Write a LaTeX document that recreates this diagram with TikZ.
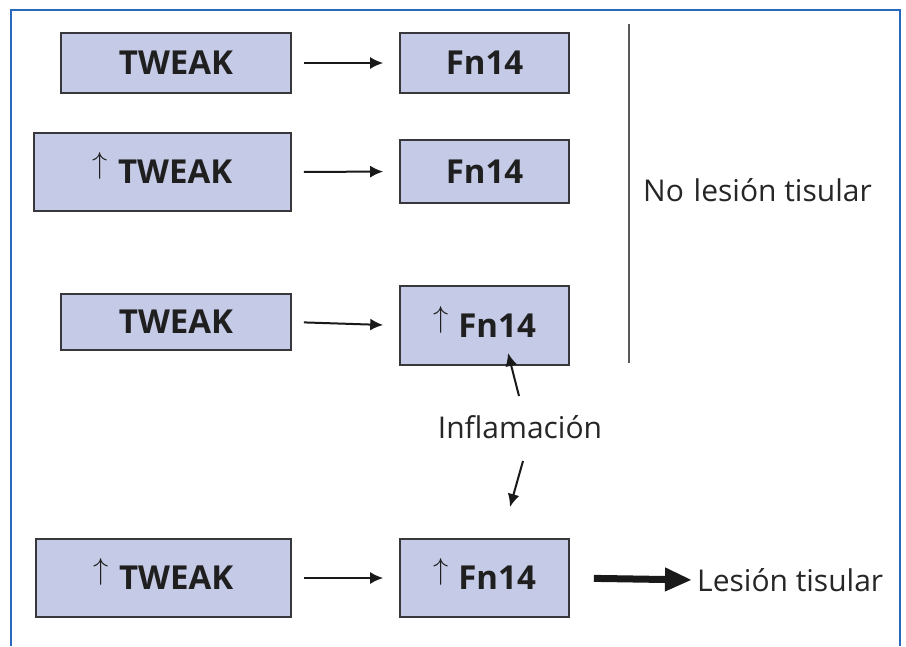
\documentclass[tikz,border=0pt]{standalone}
\usepackage{fontspec}
\usepackage{graphicx}
\setmainfont{Open Sans}
\usetikzlibrary{arrows.meta}
\definecolor{frameblue}{RGB}{40,105,190}
\definecolor{boxfill}{RGB}{197,202,230}
\definecolor{boxline}{RGB}{55,55,60}
\tikzset{
  box/.style={draw=boxline, line width=1.6pt, fill=boxfill, inner sep=0pt, font=\fontsize{33}{36}\selectfont\bfseries, text=black!88},
  thinarrow/.style={line width=2pt, -{Latex[length=13pt,width=12pt]}, black!90},
  boldarrow/.style={line width=7pt, -{Triangle[length=27pt,width=22pt]}, black!90},
  lbl/.style={font=\fontsize{30}{34}\selectfont, text=black!85, inner sep=0pt}
}
\newcommand{\upar}{\smash{\raisebox{10pt}{\resizebox*{!}{27pt}{$\uparrow$}}}\hspace{10pt}}
\begin{document}
\begin{tikzpicture}[x=1pt,y=-1pt]
\useasboundingbox (0,0) rectangle (906,646);
% frame
\draw[frameblue, line width=2pt] (11,646) -- (11,10) -- (900,10) -- (900,646);
% separator
\draw[black!65, line width=1.6pt] (629,24) -- (629,363);
% row 1
\node[box, minimum width=230pt, minimum height=60pt] (t1) at (176,63) {TWEAK};
\node[box, minimum width=169pt, minimum height=60pt] (f1) at (484.5,63) {Fn14};
% row 2
\node[box, minimum width=257pt, minimum height=78pt] (t2) at (162.5,172) {\upar TWEAK};
\node[box, minimum width=169pt, minimum height=63pt] (f2) at (484.5,171.5) {Fn14};
% row 3
\node[box, minimum width=230pt, minimum height=56pt] (t3) at (176,322) {TWEAK};
\node[box, minimum width=169pt, minimum height=79pt] (f3) at (484.5,325.5) {\upar Fn14};
% row 4
\node[box, minimum width=255pt, minimum height=78pt] (t4) at (163.5,578) {\upar TWEAK};
\node[box, minimum width=169pt, minimum height=78pt] (f4) at (484.5,578) {\upar Fn14};
% labels
\node[lbl, anchor=west] (nl) at (643,190) {No\hspace{2pt} lesión tisular};
\node[lbl] (inf) at (520,427) {Inflamación};
\node[lbl, anchor=west] (lt) at (697,580) {Lesión tisular};
% arrows
\draw[thinarrow, shorten <=12pt, shorten >=16pt] (t1.east) -- (f1.west);
\draw[thinarrow, shorten <=12pt, shorten >=16pt] (t2.east) -- (f2.west);
\draw[thinarrow, shorten <=12pt, shorten >=16pt] (t3.east) -- (f3.west);
\draw[thinarrow, shorten <=12pt, shorten >=16pt] (t4.east) -- (f4.west);
\draw[boldarrow, shorten <=24pt, shorten >=5pt] (f4.east) -- (lt.west);
\coordinate (u1) at (519,396);
\coordinate (u2) at (508,353);
\coordinate (d1) at (523,461);
\coordinate (d2) at (510,507);
\draw[thinarrow] (u1) -- (u2);
\draw[thinarrow] (d1) -- (d2);
\end{tikzpicture}
\end{document}
